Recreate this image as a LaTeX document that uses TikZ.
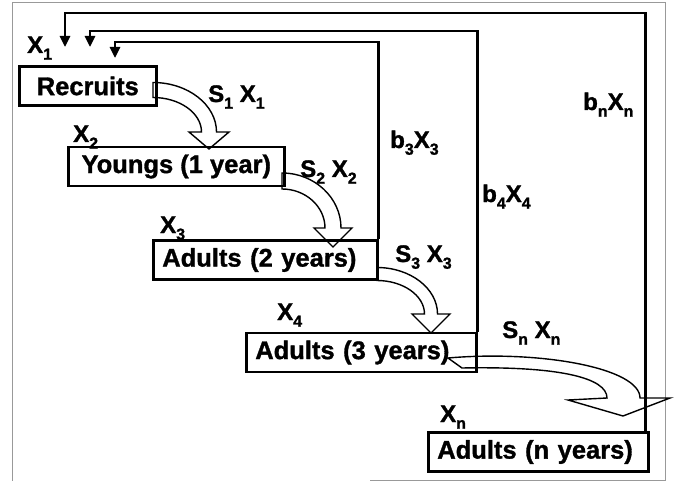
\documentclass[tikz,border=0pt]{standalone}
\usepackage{fontspec}
\setmainfont{Liberation Sans}[BoldFeatures={FakeBold=1.2}]
\usetikzlibrary{arrows.meta,calc}
\pgfdeclarelayer{background}
\pgfsetlayers{background,main}

\tikzset{
  stage/.style={draw, line width=2.6pt, minimum height=39pt, inner xsep=9pt,
    inner ysep=0pt, anchor=west, font=\fontsize{25.5}{28}\selectfont\bfseries},
  lab/.style={anchor=base west, inner sep=0pt, font=\fontsize{24}{26}\selectfont\bfseries},
  feedback/.style={line width=2.6pt, -{Triangle[length=11pt,width=10pt]}},
  block/.style={draw, fill=white, line width=1.4pt, line join=miter},
  frame/.style={draw=black!40, line width=1pt}
}
\newcommand\sub[1]{\raisebox{-0.28em}{\fontsize{16}{16}\selectfont#1}}

% curved hollow arrow: #1 start (shaft centre), #2 tip,
% #3 half shaft width, #4 half head width, #5 head length (pt)
\newcommand\bendarrow[5]{%
  \path[block] let \p1=(#1), \p2=(#2) in
    (\x1,{\y1+#3pt})
    .. controls ({\x1+0.55*(\x2-\x1+#3pt)},{\y1+#3pt})
    and ({\x2+#3pt},{\y2+#5pt+0.55*(\y1-\y2-#5pt+#3pt)}) ..
    ({\x2+#3pt},{\y2+#5pt})
    -- ({\x2+#4pt},{\y2+#5pt}) -- (\x2,\y2) -- ({\x2-#4pt},{\y2+#5pt})
    -- ({\x2-#3pt},{\y2+#5pt})
    .. controls ({\x2-#3pt},{\y2+#5pt+0.55*(\y1-\y2-#5pt-#3pt)})
    and ({\x1+0.55*(\x2-\x1-#3pt)},{\y1-#3pt}) ..
    (\x1,{\y1-#3pt}) -- cycle;}

\begin{document}
\begin{tikzpicture}[x=1pt,y=-1pt]
\useasboundingbox (0,0) rectangle (674,481);

% life stages
\node[stage, minimum width=137pt] (rec) at (18,86) {Recruits};
\node[stage, minimum width=216pt] (yo) at (67,166.5) {Youngs (1 year)};
\node[stage, text width=206pt, align=left] (a2) at (152,260) {Adults (2 years)};
\node[stage, text width=212pt, align=left] (a3) at (245,352.5) {Adults (3 years)};
\node[stage, text width=202pt, align=left] (an) at (427,452) {Adults (n years)};

% labels
\node[lab] (lx1) at (27,53) {X\sub{1}};
\node[lab] (ls1) at (208,102) {S\sub{1} X\sub{1}};
\node[lab] (lx2) at (73,142) {X\sub{2}};
\node[lab] (ls2) at (300,177) {S\sub{2} X\sub{2}};
\node[lab] (lx3) at (160,233) {X\sub{3}};
\node[lab] (lb3) at (390,148) {b\sub{3}X\sub{3}};
\node[lab] (lb4) at (482,202) {b\sub{4}X\sub{4}};
\node[lab] (lbn) at (583,110) {b\sub{n}X\sub{n}};
\node[lab] (ls3) at (395,262) {S\sub{3} X\sub{3}};
\node[lab] (lx4) at (277,320) {X\sub{4}};
\node[lab] (lsn) at (502,338) {S\sub{n} X\sub{n}};
\node[lab] (lxn) at (440,422) {X\sub{n}};

% survival arrow end points
\coordinate (s1) at (153,90);  \coordinate (e1) at (209,149);
\coordinate (s2) at (282,181); \coordinate (e2) at (333,247);
\coordinate (s3) at (377,274); \coordinate (e3) at (431,333);

% fecundity feedback corners and tips
\coordinate (k1) at (65,13);  \coordinate (t1) at (65,47);
\coordinate (k2) at (90,31);  \coordinate (t2) at (90,47);
\coordinate (k3) at (115,42); \coordinate (t3) at (115,58);

\begin{pgfonlayer}{background}
  \draw[frame] (12,481) -- (12,3) -- (665,3) -- (665,480) -- (370,480);
  \bendarrow{s1}{e1}{7.5}{20}{17}
  \bendarrow{s2}{e2}{8}{19}{19}
  \bendarrow{s3}{e3}{6.5}{19}{19}
  \path[block] (448,358) .. controls (540,350) and (640,368) .. (640,398)
    -- (670,398) -- (623,416) -- (568,400) -- (607,398)
    .. controls (607,378) and (560,366) .. (462,368) -- cycle;
\end{pgfonlayer}

\draw[feedback] (a2.north east) |- (k3) -- (t3);
\draw[feedback] (a3.north east) |- (k2) -- (t2);
\draw[feedback] ($(an.north east)+(-4,0)$) |- (k1) -- (t1);
\end{tikzpicture}
\end{document}
